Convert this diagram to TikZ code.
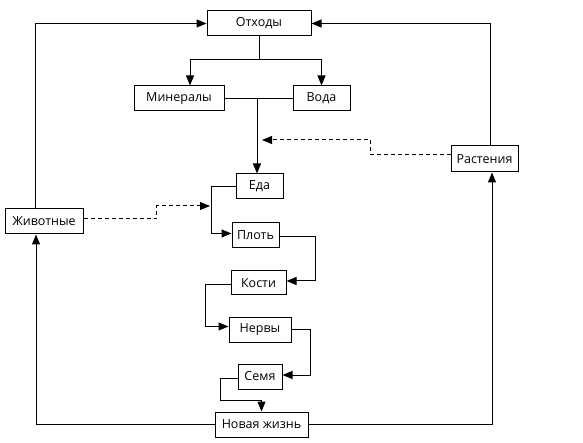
\documentclass[tikz,border=0pt]{standalone}
\usepackage{fontspec}
\setmainfont{Open Sans}
\usetikzlibrary{arrows.meta}
\tikzset{
  box/.style={draw, line width=1pt, minimum height=25pt, inner sep=0pt, font=\fontsize{12.5}{14}\selectfont},
  arr/.style={line width=1pt, -{Triangle[length=10pt,width=8pt]}},
  dasharr/.style={arr, dash pattern=on 4pt off 3pt},
  ln/.style={line width=1pt}
}
\begin{document}
\begin{tikzpicture}[x=1pt,y=-1pt]
\useasboundingbox[fill=white] (0,0) rectangle (583,443);
\node[box, minimum width=104pt] (otx) at (259,23.5) {Отходы};
\node[box, minimum width=90pt] (min) at (179,98.5) {Минералы};
\node[box, minimum width=57pt] (voda) at (321.5,98.5) {Вода};
\node[box, minimum width=47pt] (eda) at (259.5,186.5) {Еда};
\node[box, minimum width=47pt] (plot) at (255.5,235.5) {Плоть};
\node[box, minimum width=55pt, minimum height=24pt] (kosti) at (258.5,283) {Кости};
\node[box, minimum width=62pt] (nervy) at (260,329.5) {Нервы};
\node[box, minimum width=44pt] (semya) at (260,376.5) {Семя};
\node[box, minimum width=93pt] (nova) at (261.5,424.5) {Новая жизнь};
\node[box, minimum width=78pt] (zhiv) at (44,221.5) {Животные};
\node[box, minimum width=67pt, minimum height=26pt] (rast) at (484.5,159) {Растения};
\coordinate (d1) at (262,140);
\coordinate (d2) at (210,206);
% top loop
\draw[arr] ([xshift=-9pt]zhiv.north) |- (otx.west);
\draw[arr] ([xshift=5.5pt]rast.north) |- (otx.east);
% waste split
\draw[ln] (otx.south) -- ++(0,23) coordinate (b1);
\draw[arr] (b1) -| ([xshift=11pt]min.north);
\draw[arr] (b1) -| (voda.north);
% minerals + water -> food
\draw[ln] (min.east) -- (voda.west);
\draw[arr] ([xshift=-2.5pt]eda.north |- min.east) -- ([xshift=-2.5pt]eda.north);
% dashed
\draw[dasharr] ([yshift=4pt]rast.west) -- ++(-80,0) |- (d1);
\draw[dasharr] ([yshift=2.5pt]zhiv.east) -- ++(73,0) |- (d2);
% chain
\draw[arr] (eda.west) -- ++(-24,0) |- ([yshift=2pt]plot.west);
\draw[arr] ([yshift=-1.5pt]plot.east) -- ++(36,0) |- ([yshift=2pt]kosti.east);
\draw[arr] ([yshift=-2pt]kosti.west) -- ++(-25,0) |- ([yshift=3pt]nervy.west);
\draw[arr] (nervy.east) -- ++(19,0) |- ([yshift=1.5pt]semya.east);
\draw[arr] ([yshift=-1.5pt]semya.west) -- ++(-17,0) -- ++(0,22) -| (nova.north);
% bottom loop
\draw[arr] (nova.west) -| ([xshift=-8pt]zhiv.south);
\draw[arr] (nova.east) -| ([xshift=7.5pt]rast.south);
\end{tikzpicture}
\end{document}
